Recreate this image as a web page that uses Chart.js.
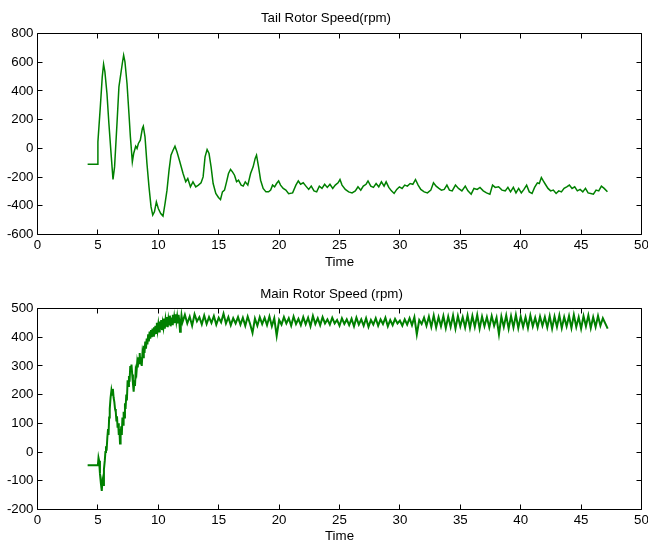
<!DOCTYPE html>
<html>
<head>
<meta charset="utf-8">
<script src="https://cdn.jsdelivr.net/npm/chart.js@4.4.1/dist/chart.umd.min.js"></script>
<style>
  html, body { margin: 0; padding: 0; background: #fff; overflow: hidden; width: 648px; height: 542px; }
  #c1 { position: absolute; left: 0; top: 0; }
  #c2 { position: absolute; left: 0; top: 271px; }
</style>
</head>
<body>
<canvas id="c1" width="648" height="271"></canvas>
<canvas id="c2" width="648" height="276"></canvas>
<script>
// ---------------- DATA ----------------
const tailTitle = 'Tail Rotor Speed(rpm)';
const mainTitle = 'Main Rotor Speed (rpm)';
const xTitle = 'Time';
const xTicks = [0, 5, 10, 15, 20, 25, 30, 35, 40, 45, 50];
const tailYTicks = [-600, -400, -200, 0, 200, 400, 600, 800];
const mainYTicks = [-200, -100, 0, 100, 200, 300, 400, 500];

const tailTime = [4.15,4.95,5.0,5.2,5.36,5.47,5.58,5.75,5.91,6.11,6.25,6.38,6.58,6.74,6.86,7.02,7.13,7.24,7.41,7.57,
 7.69,7.85,7.96,8.13,8.24,8.35,8.51,8.68,8.76,8.9,9.06,9.23,9.4,9.54,9.68,9.84,10.0,10.2,10.39,10.56,
 10.72,10.89,11.05,11.22,11.38,11.55,11.77,12.05,12.27,12.44,12.66,12.87,13.1,13.32,13.54,13.71,13.87,14.04,14.2,14.37,
 14.54,14.76,14.98,15.15,15.31,15.48,15.65,15.81,15.98,16.14,16.31,16.48,16.64,16.86,17.03,17.2,17.41,17.64,17.85,18.02,
 18.13,18.3,18.47,18.68,18.91,19.13,19.3,19.46,19.63,19.79,19.96,20.12,20.34,20.56,20.79,21.12,21.39,21.59,21.78,22.0,
 22.22,22.45,22.66,22.89,23.11,23.33,23.55,23.77,23.99,24.21,24.44,24.65,24.88,25.04,25.21,25.48,25.76,26.04,26.31,26.53,
 26.76,26.97,27.2,27.36,27.59,27.81,28.03,28.25,28.47,28.69,28.86,29.08,29.3,29.52,29.74,29.96,30.18,30.4,30.62,30.85,
 31.07,31.29,31.51,31.73,32.01,32.28,32.56,32.78,33.0,33.23,33.44,33.67,33.89,34.1,34.33,34.6,34.85,35.13,35.41,35.63,
 35.9,36.13,36.4,36.63,36.9,37.17,37.45,37.67,37.89,38.17,38.45,38.72,38.94,39.16,39.39,39.61,39.83,40.05,40.27,40.49,
 40.71,40.94,41.15,41.38,41.54,41.71,41.87,42.04,42.26,42.48,42.7,42.93,43.15,43.37,43.59,43.81,44.03,44.25,44.47,44.69,
 44.92,45.14,45.36,45.58,45.8,46.02,46.24,46.46,46.68,46.91,47.18];
const tailRpm = [-110,-110,45,289,498,586,533,382,173,-59,-217,-129,173,428,498,591,649,602,452,243,
 80,-94,-36,15,-1,34,57,138,154,80,-105,-268,-408,-465,-442,-373,-419,-454,-472,-384,
 -291,-152,-47,-13,15,-25,-90,-175,-233,-210,-268,-233,-268,-256,-240,-199,-59,-8,-36,-129,
 -245,-314,-342,-356,-303,-291,-233,-175,-147,-164,-187,-233,-222,-256,-263,-233,-256,-175,-129,-70,
 -47,-129,-222,-279,-303,-303,-291,-256,-268,-245,-227,-256,-279,-291,-316,-310,-256,-227,-250,-240,
 -263,-286,-263,-296,-303,-263,-279,-250,-272,-250,-279,-256,-240,-217,-256,-286,-303,-310,-296,-268,
 -291,-263,-250,-227,-263,-272,-245,-268,-233,-263,-233,-272,-296,-314,-286,-268,-279,-256,-263,-245,
 -250,-217,-256,-286,-303,-310,-291,-240,-263,-279,-291,-286,-256,-291,-296,-256,-279,-296,-263,-296,
 -319,-279,-286,-272,-296,-310,-319,-256,-272,-268,-291,-296,-272,-303,-272,-310,-279,-310,-286,-256,
 -303,-314,-272,-240,-245,-203,-227,-250,-279,-296,-291,-314,-296,-303,-279,-268,-256,-279,-268,-296,
 -286,-303,-279,-310,-314,-319,-291,-296,-263,-279,-303];

// main rotor: transient part (explicit times)
const mainTime = [4.15,5.0,5.05,5.1,5.17,5.25,5.32,5.38,5.45,5.5,5.57,5.62,5.67,5.72,5.78,5.84,5.88,5.93,5.98,6.05,
 6.12,6.18,6.24,6.3,6.36,6.42,6.48,6.53,6.58,6.63,6.68,6.73,6.78,6.83,6.88,6.93,6.98,7.03,7.08,7.13,
 7.18,7.24,7.29,7.35,7.4,7.46,7.51,7.57,7.62,7.68,7.73,7.78,7.84,7.9,7.96,8.02,8.07,8.13,8.19,8.25,
 8.3,8.36,8.41,8.46,8.52,8.58,8.63,8.69,8.75,8.8,8.86,8.92,8.98,9.04,9.1,9.16,9.22,9.28,9.34,9.4,
 9.46,9.52,9.58,9.64,9.7,9.76,9.82,9.88,9.94,10.0,10.06,10.12,10.18,10.24,10.3,10.36,10.42,10.48,10.54,10.6,
 10.66,10.72,10.78,10.84,10.9,10.96,11.02,11.08,11.14,11.2,11.26,11.32,11.38,11.44,11.5,11.56,11.62,11.68,11.74,11.8,
 11.86,11.92];
const mainRpm = [-46,-46,-20,-30,-75,-110,-135,-100,-115,-60,-30,0,20,5,50,80,60,120,150,190,
 215,200,220,190,175,150,140,110,125,85,100,60,80,30,55,90,60,120,95,140,
 120,170,150,200,180,250,230,265,245,300,280,305,270,240,210,250,230,285,275,310,
 295,330,310,345,305,330,300,345,330,370,345,385,360,395,375,410,385,420,395,425,
 400,430,405,435,410,440,415,450,425,445,420,455,430,460,425,450,435,465,430,460,
 440,470,435,462,445,475,438,468,445,478,448,470,450,480,455,472,448,478,455,419,
 450,476];
// main rotor: steady part, one reading every 0.2 s from t = 12.0
const mainSteadyStart = 12.0;
const mainSteadyStep = 0.2;
const mainSteadyRpm = [
 452,478,448,472,440,480,455,470,445,476,
 446,470,450,474,444,468,452,482,448,470,
 442,466,448,470,444,468,440,472,446,415,
 465,440,470,446,468,442,472,438,466,405,
 460,444,470,448,466,440,472,446,464,442,
 470,445,468,438,474,446,466,442,470,448,
 462,444,468,448,460,440,466,446,462,442,
 464,438,468,444,462,440,466,436,460,444,
 466,440,462,446,468,438,460,442,464,448,
 458,440,462,444,466,442,470,410,460,446,
 468,440,472,436,476,434,470,438,474,432,
 472,436,476,430,474,438,470,434,476,432,
 474,436,478,430,472,438,470,434,474,440,
 468,410,472,436,476,430,474,434,478,432,
 472,436,470,432,476,438,468,434,472,440,
 470,434,474,430,472,436,476,432,470,438,
 474,432,478,436,470,430,474,438,476,432,
 470,436,474,440,466,448,430];

// ---------------- BUILD ----------------
const tailPoints = tailTime.map((t, i) => ({x: t, y: tailRpm[i]}));
const mainPoints = mainTime.map((t, i) => ({x: t, y: mainRpm[i]}))
  .concat(mainSteadyRpm.map((v, i) => ({x: +(mainSteadyStart + i * mainSteadyStep).toFixed(2), y: v})));

const FONT = "'Liberation Sans', Arial, Helvetica, sans-serif";
const GREEN = 'rgb(0,128,0)';

const frameTicks = {
  id: 'frameTicks',
  afterLayout(chart, args, opts) {
    const tb = chart.titleBlock;
    if (tb && opts.titleShift) { tb.left += opts.titleShift; tb.right += opts.titleShift; }
  },
  afterDraw(chart) {
    const {ctx, chartArea: a, scales: {x, y}} = chart;
    const L = 5;
    const snap = v => Math.round(v - 0.5) + 0.5;
    const l = snap(a.left), r = snap(a.right), t = snap(a.top), b = snap(a.bottom);
    ctx.save();
    ctx.strokeStyle = '#000';
    ctx.lineWidth = 1;
    ctx.beginPath();
    ctx.rect(l, t, r - l, b - t);
    x.ticks.forEach(tk => {
      const px = snap(x.getPixelForValue(tk.value));
      ctx.moveTo(px, b); ctx.lineTo(px, b - L);
      ctx.moveTo(px, t); ctx.lineTo(px, t + L);
    });
    y.ticks.forEach(tk => {
      const py = snap(y.getPixelForValue(tk.value));
      ctx.moveTo(l, py); ctx.lineTo(l + L, py);
      ctx.moveTo(r, py); ctx.lineTo(r - L, py);
    });
    ctx.stroke();
    ctx.restore();
  }
};

function makeChart(id, cfg) {
  return new Chart(document.getElementById(id), {
    type: 'line',
    data: { datasets: [{
      data: cfg.points, borderColor: GREEN, borderWidth: cfg.lineWidth,
      pointRadius: 0, tension: 0, fill: false
    }]},
    options: {
      responsive: false, animation: false,
      layout: { padding: { left: 0, right: 6.5, top: 0, bottom: 0 } },
      plugins: {
        legend: { display: false }, tooltip: { enabled: false },
        frameTicks: { titleShift: cfg.titleShift },
        title: { display: true, text: cfg.title, color: '#000',
          font: { family: FONT, size: 13.3, weight: 'normal' },
          padding: { top: cfg.titleTop, bottom: cfg.titleBottom } }
      },
      scales: {
        x: {
          type: 'linear', min: 0, max: 50,
          afterBuildTicks: s => { s.ticks = xTicks.map(v => ({value: v})); },
          afterFit: s => { s.height = cfg.xHeight; s.paddingLeft = 0; s.paddingRight = 0; },
          grid: { display: false, drawTicks: false }, border: { display: false },
          ticks: { color: '#000', padding: 3, font: { family: FONT, size: 13.3 }, maxRotation: 0, autoSkip: false },
          title: { display: true, text: xTitle, color: '#000', font: { family: FONT, size: 13.3 },
            padding: { top: 0, bottom: cfg.xTitleBottom } }
        },
        y: {
          type: 'linear', min: cfg.yTicks[0], max: cfg.yTicks[cfg.yTicks.length - 1],
          afterBuildTicks: s => { s.ticks = cfg.yTicks.map(v => ({value: v})); },
          afterFit: s => { s.width = 37.5; s.paddingTop = 0; s.paddingBottom = 0; },
          grid: { display: false, drawTicks: false }, border: { display: false },
          ticks: { color: '#000', padding: 4, font: { family: FONT, size: 13.3 }, autoSkip: false }
        }
      }
    },
    plugins: [frameTicks]
  });
}

makeChart('c1', { points: tailPoints, title: tailTitle, yTicks: tailYTicks, lineWidth: 1.5,
  titleShift: 5.25, titleTop: 10, titleBottom: 7.54, xHeight: 36.5, xTitleBottom: 1 });
makeChart('c2', { points: mainPoints, title: mainTitle, yTicks: mainYTicks, lineWidth: 2,
  titleShift: 10.75, titleTop: 15.7, titleBottom: 5.84, xHeight: 37.5, xTitleBottom: 2.3 });
</script>
</body>
</html>
